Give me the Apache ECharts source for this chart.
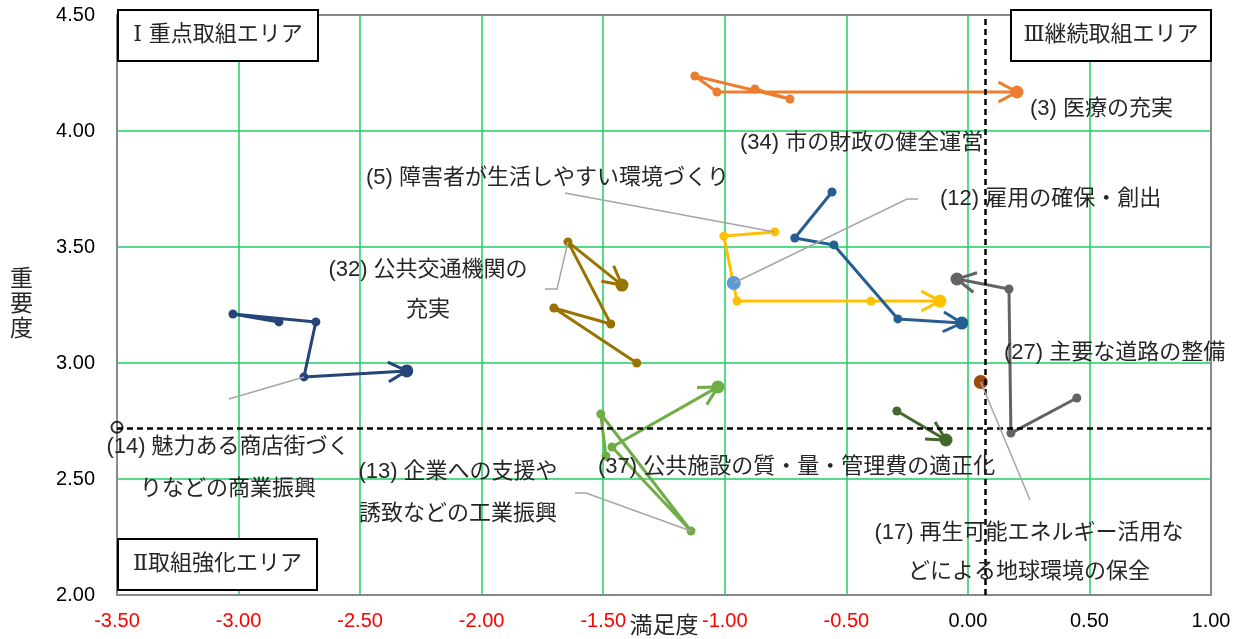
<!DOCTYPE html>
<html><head><meta charset="utf-8">
<script src="https://cdn.jsdelivr.net/npm/echarts@6/dist/echarts.min.js"></script>
<style>html,body{margin:0;padding:0;background:#fff}#c{width:1254px;height:639px}</style>
</head><body><div id="c"></div>
<script>
// ---- axes ----
const xMin = -3.5, xMax = 1.0, xStep = 0.5;
const yMin = 2.0, yMax = 4.5, yStep = 0.5;
const xName = '満足度';
const yName = '重要度';
// ---- average reference lines ----
const avgSatisfaction = 0.074;
const avgImportance = 2.723;

// ---- series values: [満足度, 重要度], in time order (arrow = latest) ----
const item3  = [[-0.876,4.181],[-0.732,4.138],[-1.123,4.237],[-1.032,4.168],[0.202,4.168]];
const item14 = [[-2.834,3.177],[-3.023,3.211],[-2.682,3.177],[-2.731,2.940],[-2.308,2.966]];
const item32 = [[-1.362,3.000],[-1.703,3.237],[-1.469,3.168],[-1.645,3.522],[-1.423,3.336]];
const item5  = [[-0.794,3.565],[-1.004,3.547],[-0.950,3.267],[-0.399,3.267],[-0.115,3.267]];
const item12 = [[-0.963,3.345]];
const item34 = [[-0.559,3.737],[-0.712,3.539],[-0.551,3.509],[-0.288,3.190],[-0.025,3.172]];
const item27 = [[0.448,2.849],[0.177,2.698],[0.169,3.319],[-0.045,3.362]];
const item37 = [[-0.292,2.793],[-0.090,2.668]];
const item17 = [[0.053,2.918]];
const item13 = [[-1.489,2.599],[-1.510,2.780],[-1.139,2.276],[-1.464,2.638],[-1.028,2.897]];

// ---- label texts ----
const label3  = '(3) 医療の充実';
const label34 = '(34) 市の財政の健全運営';
const label5  = '(5) 障害者が生活しやすい環境づくり';
const label12 = '(12) 雇用の確保・創出';
const label32 = '(32) 公共交通機関の\n充実';
const label27 = '(27) 主要な道路の整備';
const label14 = '(14) 魅力ある商店街づく\nりなどの商業振興';
const label13 = '(13) 企業への支援や\n誘致などの工業振興';
const label37 = '(37) 公共施設の質・量・管理費の適正化';
const label17 = '(17) 再生可能エネルギー活用な\nどによる地球環境の保全';
const quadrantLabels = ['Ⅰ 重点取組エリア', 'Ⅲ継続取組エリア', 'Ⅱ取組強化エリア'];

// ---- styling / layout ----
const seriesDefs = [
  {name: label3,  data: item3,  color: '#ED7D31'},
  {name: label14, data: item14, color: '#264478'},
  {name: label32, data: item32, color: '#997300'},
  {name: label5,  data: item5,  color: '#FFC000'},
  {name: label34, data: item34, color: '#255E91'},
  {name: label27, data: item27, color: '#636363'},
  {name: label37, data: item37, color: '#43682B'},
  {name: label13, data: item13, color: '#70AD47'},
  {name: label12, data: item12, color: '#5B9BD5'},
  {name: label17, data: item17, color: '#9E480E'}
];

const FONT_FAMILY = "'Liberation Sans', 'Noto Sans CJK JP', sans-serif";
const LABEL_SIZE = 22;
const LABEL_FONT = LABEL_SIZE + 'px ' + FONT_FAMILY;
const TEXT_COLOR = '#262626';
const GRID_GREEN = '#1ccf62';

// text label layout in pixels
const textLayout = [
  {text: label3,  x: 1030, y: 109, align: 'left'},
  {text: label34, x: 740,  y: 143, align: 'left'},
  {text: label5,  x: 366,  y: 178, align: 'left'},
  {text: label12, x: 940,  y: 199, align: 'left'},
  {text: label32, x: 428,  y: 290, align: 'center', lh: 40},
  {text: label27, x: 1004, y: 353, align: 'left'},
  {text: label14, x: 228,  y: 468, align: 'center', lh: 42},
  {text: label13, x: 458,  y: 493, align: 'center', lh: 42},
  {text: label37, x: 598,  y: 467, align: 'left'},
  {text: label17, x: 1029, y: 552, align: 'center', lh: 39}
];

// leader lines: pixel start/elbow points, ending at a data point
const leaderDefs = [
  {pts: [[565,193]], target: item5[0]},
  {pts: [[918,199],[907,199]], target: item12[0]},
  {pts: [[545,289],[557,289]], target: item32[3]},
  {pts: [[229,399]], target: item14[3]},
  {pts: [[575,493],[586,493]], target: item13[2]},
  {pts: [[1030,500]], target: item17[0]}
];

const quadBoxes = [
  {x: 118, y: 10, w: 200, h: 51},
  {x: 1011, y: 10, w: 200, h: 51},
  {x: 118, y: 539, w: 199, h: 51}
];

const chart = echarts.init(document.getElementById('c'));

const series = [];
seriesDefs.forEach(d => {
  const last = d.data.length - 1;
  series.push({
    type: 'line',
    name: d.name,
    data: d.data,
    symbol: 'circle',
    symbolSize: (v, p) => (p.dataIndex === last ? (last === 0 ? 14 : 13) : 9),
    showSymbol: true,
    lineStyle: {color: d.color, width: 3},
    itemStyle: {color: d.color},
    z: 3,
    silent: true
  });
});

// arrowheads at the latest point of each multi-point series
const arrowData = [];
const arrowColors = [];
seriesDefs.forEach(d => {
  const n = d.data.length;
  if (n > 1) {
    arrowData.push([d.data[n-2][0], d.data[n-2][1], d.data[n-1][0], d.data[n-1][1]]);
    arrowColors.push(d.color);
  }
});
series.push({
  type: 'custom',
  name: 'arrows',
  data: arrowData,
  encode: {x: [0, 2], y: [1, 3]},
  z: 4,
  silent: true,
  renderItem: (params, api) => {
    const a = api.coord([api.value(0), api.value(1)]);
    const b = api.coord([api.value(2), api.value(3)]);
    const ang = Math.atan2(b[1] - a[1], b[0] - a[0]);
    const L = 21, h = 0.49;
    const p1 = [b[0] - L * Math.cos(ang - h), b[1] - L * Math.sin(ang - h)];
    const p2 = [b[0] - L * Math.cos(ang + h), b[1] - L * Math.sin(ang + h)];
    return {type: 'polyline', shape: {points: [p1, b, p2]},
      style: {stroke: arrowColors[params.dataIndex], lineWidth: 3, fill: null}};
  }
});

// leader lines
series.push({
  type: 'custom',
  name: 'leaders',
  data: leaderDefs.map(d => d.target),
  encode: {x: 0, y: 1},
  z: 5,
  silent: true,
  renderItem: (params, api) => {
    const p = api.coord([api.value(0), api.value(1)]);
    const pts = leaderDefs[params.dataIndex].pts.concat([p]);
    return {type: 'polyline', shape: {points: pts},
      style: {stroke: '#A6A6A6', lineWidth: 1.5, fill: null}};
  }
});

// average reference lines and anchor circle
series.push({
  type: 'scatter',
  name: 'avg',
  data: [[xMin, avgImportance]],
  symbol: 'circle',
  symbolSize: 11,
  itemStyle: {color: 'rgba(0,0,0,0)', borderColor: '#000', borderWidth: 2},
  z: 6,
  silent: true,
  markLine: {
    silent: true,
    symbol: 'none',
    label: {show: false},
    lineStyle: {color: '#000', width: 2.5, type: [6, 4]},
    data: [{xAxis: avgSatisfaction}, {yAxis: avgImportance}]
  }
});

const axisBase = {
  type: 'value',
  axisTick: {show: false}
};

const option = {
  animation: false,
  backgroundColor: '#fff',
  grid: {left: 117, right: 43, top: 15, bottom: 44, containLabel: false, outerBoundsMode: 'none'},
  xAxis: [
    Object.assign({}, axisBase, {
      min: xMin, max: xMax, interval: xStep,
      position: 'bottom',
      axisLine: {show: true, onZero: false, lineStyle: {color: '#898989', width: 2}},
      axisLabel: {
        formatter: v => Number(v).toFixed(2),
        color: v => (parseFloat(v) < 0 ? '#FF0000' : '#000000'),
        fontSize: 20, fontFamily: FONT_FAMILY, margin: 16
      },
      splitLine: {show: true, lineStyle: {color: GRID_GREEN, width: 1.5}},
      name: xName, nameLocation: 'middle', nameGap: 20, nameMoveOverlap: false,
      nameTextStyle: {fontSize: 23, color: TEXT_COLOR, fontFamily: FONT_FAMILY}
    }),
    Object.assign({}, axisBase, {
      min: xMin, max: xMax, interval: xStep,
      position: 'top',
      axisLine: {show: true, onZero: false, lineStyle: {color: '#898989', width: 2}},
      axisLabel: {show: false},
      splitLine: {show: false}
    })
  ],
  yAxis: [
    Object.assign({}, axisBase, {
      min: yMin, max: yMax, interval: yStep,
      position: 'left',
      axisLine: {show: true, onZero: false, lineStyle: {color: '#898989', width: 2}},
      axisLabel: {
        formatter: v => Number(v).toFixed(2),
        color: '#000000', fontSize: 20, fontFamily: FONT_FAMILY, margin: 22
      },
      splitLine: {show: true, lineStyle: {color: GRID_GREEN, width: 1.5}},
      name: yName.split('').join('\n'), nameLocation: 'middle', nameGap: 84, nameRotate: 0,
      nameMoveOverlap: false,
      nameTextStyle: {fontSize: 23, lineHeight: 25, color: TEXT_COLOR, fontFamily: FONT_FAMILY}
    }),
    Object.assign({}, axisBase, {
      min: yMin, max: yMax, interval: yStep,
      position: 'right',
      axisLine: {show: true, onZero: false, lineStyle: {color: '#898989', width: 2}},
      axisLabel: {show: false},
      splitLine: {show: false}
    })
  ],
  series: series,
  graphic: []
};

// text labels
textLayout.forEach(t => {
  option.graphic.push({
    type: 'text', x: t.x, y: t.y, z: 50, silent: true,
    style: {
      text: t.text, fill: TEXT_COLOR, font: LABEL_FONT,
      fontSize: LABEL_SIZE, fontFamily: FONT_FAMILY,
      lineHeight: t.lh || 26,
      align: t.align, textAlign: t.align,
      verticalAlign: 'middle', textVerticalAlign: 'middle'
    }
  });
});

// quadrant boxes
quadBoxes.forEach((b, i) => {
  option.graphic.push({
    type: 'rect', z: 60, silent: true,
    shape: {x: b.x, y: b.y, width: b.w, height: b.h},
    style: {fill: '#ffffff', stroke: '#000000', lineWidth: 2}
  });
  option.graphic.push({
    type: 'text', z: 61, silent: true,
    x: b.x + b.w / 2, y: b.y + b.h / 2,
    style: {
      text: quadrantLabels[i], fill: TEXT_COLOR,
      font: "22px 'DejaVu Serif', 'Noto Sans CJK JP', serif",
      fontSize: 22, fontFamily: "'DejaVu Serif', 'Noto Sans CJK JP', serif",
      align: 'center', textAlign: 'center',
      verticalAlign: 'middle', textVerticalAlign: 'middle'
    }
  });
});

chart.setOption(option);
</script>
</body></html>
